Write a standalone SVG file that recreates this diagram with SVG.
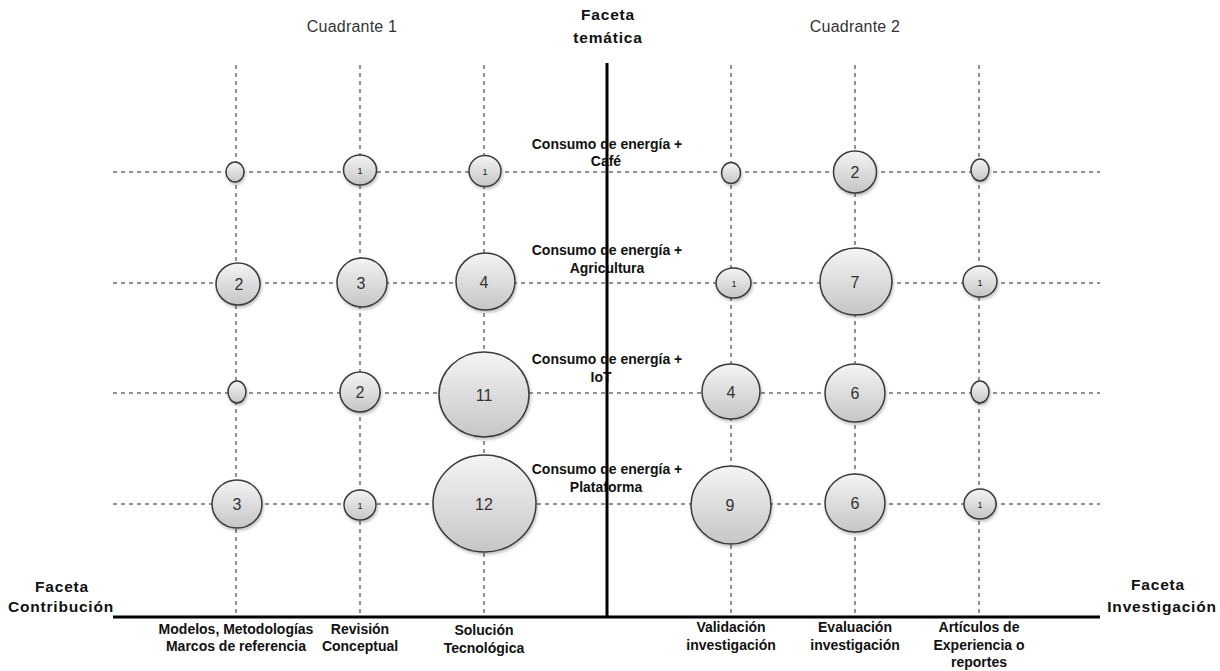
<svg xmlns="http://www.w3.org/2000/svg" width="1220" height="671" viewBox="0 0 1220 671">
  <style>
    .grid { stroke: #222; stroke-width: 1; stroke-dasharray: 4 4; fill: none; }
    .axis { stroke: #000; stroke-width: 3; fill: none; }
    .bubble { fill: url(#bubbleFill); stroke: #3a3a3a; stroke-width: 1.5; filter: url(#soft); }
    .num { font-family: "Liberation Sans", Arial, sans-serif; font-size: 16px; fill: #333; text-anchor: middle; }
    .num-s { font-family: "Liberation Sans", Arial, sans-serif; font-size: 9px; fill: #222; text-anchor: middle; }
    .quad { font-family: "Liberation Sans", Arial, sans-serif; font-size: 16px; fill: #333; text-anchor: middle; letter-spacing: 0.2px; }
    .facet { font-family: "Liberation Sans", Arial, sans-serif; font-size: 15.5px; font-weight: bold; fill: #111; text-anchor: middle; letter-spacing: 0.8px; }
    .lbl { font-family: "Liberation Sans", Arial, sans-serif; font-size: 14px; font-weight: bold; fill: #111; text-anchor: middle; }
    .topic { font-family: "Liberation Sans", Arial, sans-serif; font-size: 14px; font-weight: bold; fill: #111; text-anchor: middle; }
  </style>
  <defs>
    <linearGradient id="bubbleFill" x1="0" y1="0" x2="0" y2="1">
      <stop offset="0" stop-color="#f4f4f4"/>
      <stop offset="1" stop-color="#c6c6c6"/>
    </linearGradient>
    <filter id="soft" x="-20%" y="-20%" width="140%" height="150%">
      <feDropShadow dx="1" dy="2" stdDeviation="1.5" flood-color="#000" flood-opacity="0.25"/>
    </filter>
  </defs>

  <rect width="1220" height="671" fill="#fff"/>

  <!-- grid and axes -->
  <g id="connectors">
    <line class="grid" x1="113" y1="172" x2="1100" y2="172"/>
    <line class="grid" x1="113" y1="283" x2="1100" y2="283"/>
    <line class="grid" x1="113" y1="393" x2="1100" y2="393"/>
    <line class="grid" x1="113" y1="504" x2="1100" y2="504"/>
    <line class="grid" x1="236" y1="65" x2="236" y2="615"/>
    <line class="grid" x1="360" y1="65" x2="360" y2="615"/>
    <line class="grid" x1="484" y1="65" x2="484" y2="615"/>
    <line class="grid" x1="731" y1="65" x2="731" y2="615"/>
    <line class="grid" x1="855" y1="65" x2="855" y2="615"/>
    <line class="grid" x1="979" y1="65" x2="979" y2="615"/>
  </g>

  <!-- topic labels along the thematic axis -->
  <g id="topics">
    <text class="topic" x="607" y="149">Consumo de energía +</text>
    <text class="topic" x="606" y="166">Café</text>
    <text class="topic" x="607" y="255">Consumo de energía +</text>
    <text class="topic" x="607" y="273">Agricultura</text>
    <text class="topic" x="607" y="364">Consumo de energía +</text>
    <text class="topic" x="601" y="382">IoT</text>
    <text class="topic" x="607" y="474">Consumo de energía +</text>
    <text class="topic" x="606" y="492">Plataforma</text>
  </g>

  <g id="axes">
    <line class="axis" x1="607" y1="63" x2="607" y2="617"/>
    <line class="axis" x1="113" y1="617" x2="1100" y2="617"/>
  </g>

  <!-- row: Café -->
  <g id="n-cafe-modelos"><ellipse class="bubble" cx="235" cy="172" rx="9" ry="10"/></g>
  <g id="n-cafe-revision"><ellipse class="bubble" cx="360" cy="170" rx="16.5" ry="15"/><text class="num-s" x="360" y="174">1</text></g>
  <g id="n-cafe-solucion"><ellipse class="bubble" cx="485" cy="171" rx="16" ry="15.5"/><text class="num-s" x="485" y="175">1</text></g>
  <g id="n-cafe-validacion"><ellipse class="bubble" cx="731" cy="173" rx="9.5" ry="10.5"/></g>
  <g id="n-cafe-evaluacion"><ellipse class="bubble" cx="855" cy="172" rx="21.5" ry="21"/><text class="num" x="855" y="178">2</text></g>
  <g id="n-cafe-articulos"><ellipse class="bubble" cx="980" cy="170" rx="9" ry="11"/></g>

  <!-- row: Agricultura -->
  <g id="n-agri-modelos"><ellipse class="bubble" cx="238" cy="284" rx="22" ry="21"/><text class="num" x="239" y="290">2</text></g>
  <g id="n-agri-revision"><ellipse class="bubble" cx="362" cy="282.5" rx="25" ry="24.5"/><text class="num" x="361" y="289">3</text></g>
  <g id="n-agri-solucion"><ellipse class="bubble" cx="485.5" cy="281.5" rx="29.5" ry="28.5"/><text class="num" x="484" y="288">4</text></g>
  <g id="n-agri-validacion"><ellipse class="bubble" cx="733.5" cy="283" rx="17.5" ry="15"/><text class="num-s" x="734" y="287">1</text></g>
  <g id="n-agri-evaluacion"><ellipse class="bubble" cx="856" cy="281.5" rx="36" ry="33.5"/><text class="num" x="855" y="288">7</text></g>
  <g id="n-agri-articulos"><ellipse class="bubble" cx="980" cy="281.5" rx="17" ry="15.5"/><text class="num-s" x="980" y="286">1</text></g>

  <!-- row: IoT -->
  <g id="n-iot-modelos"><ellipse class="bubble" cx="237" cy="392" rx="9" ry="11"/></g>
  <g id="n-iot-revision"><ellipse class="bubble" cx="360" cy="392" rx="20" ry="20"/><text class="num" x="360" y="398">2</text></g>
  <g id="n-iot-solucion"><ellipse class="bubble" cx="484" cy="394.5" rx="45" ry="42.5"/><text class="num" x="484" y="401">11</text></g>
  <g id="n-iot-validacion"><ellipse class="bubble" cx="731" cy="391.5" rx="29" ry="27.5"/><text class="num" x="731" y="398">4</text></g>
  <g id="n-iot-evaluacion"><ellipse class="bubble" cx="855" cy="393" rx="30" ry="29"/><text class="num" x="855" y="399">6</text></g>
  <g id="n-iot-articulos"><ellipse class="bubble" cx="980" cy="392" rx="9" ry="11"/></g>

  <!-- row: Plataforma -->
  <g id="n-plat-modelos"><ellipse class="bubble" cx="237" cy="504" rx="25" ry="24"/><text class="num" x="237" y="510">3</text></g>
  <g id="n-plat-revision"><ellipse class="bubble" cx="360" cy="505" rx="16" ry="15"/><text class="num-s" x="360" y="509">1</text></g>
  <g id="n-plat-solucion"><ellipse class="bubble" cx="484.5" cy="503.5" rx="51.5" ry="48.5"/><text class="num" x="484" y="510">12</text></g>
  <g id="n-plat-validacion"><ellipse class="bubble" cx="731" cy="505" rx="40" ry="39"/><text class="num" x="730" y="511">9</text></g>
  <g id="n-plat-evaluacion"><ellipse class="bubble" cx="855" cy="503" rx="30" ry="29"/><text class="num" x="855" y="509">6</text></g>
  <g id="n-plat-articulos"><ellipse class="bubble" cx="980" cy="504" rx="16" ry="15"/><text class="num-s" x="980" y="508">1</text></g>

  <!-- headings -->
  <g id="headings">
    <text class="quad" x="352" y="32">Cuadrante 1</text>
    <text class="quad" x="855" y="32">Cuadrante 2</text>
    <text class="facet" x="608" y="20">Faceta</text>
    <text class="facet" x="608" y="43">temática</text>
    <text class="facet" x="62" y="592">Faceta</text>
    <text class="facet" x="61" y="612">Contribución</text>
    <text class="facet" x="1158" y="590">Faceta</text>
    <text class="facet" x="1162" y="612">Investigación</text>
  </g>

  <!-- category labels under the horizontal axis -->
  <g id="categories">
    <text class="lbl" x="236" y="634">Modelos, Metodologías</text>
    <text class="lbl" x="236" y="651">Marcos de referencia</text>
    <text class="lbl" x="360" y="634">Revisión</text>
    <text class="lbl" x="360" y="651">Conceptual</text>
    <text class="lbl" x="484" y="635">Solución</text>
    <text class="lbl" x="484" y="653">Tecnológica</text>
    <text class="lbl" x="731" y="632">Validación</text>
    <text class="lbl" x="731" y="650">investigación</text>
    <text class="lbl" x="855" y="632">Evaluación</text>
    <text class="lbl" x="855" y="650">investigación</text>
    <text class="lbl" x="979" y="632">Artículos de</text>
    <text class="lbl" x="979" y="650">Experiencia o</text>
    <text class="lbl" x="979" y="667">reportes</text>
  </g>
</svg>
